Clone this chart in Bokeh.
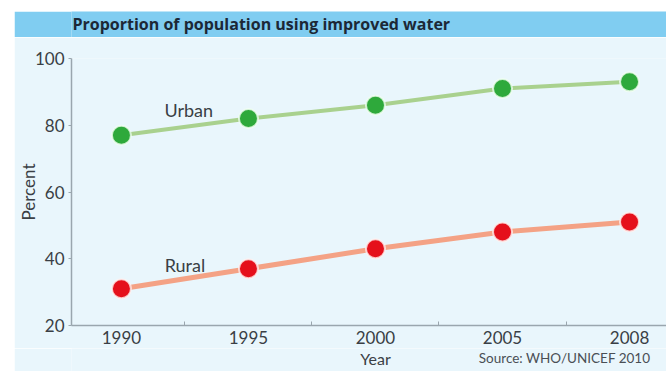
from bokeh.plotting import figure
from bokeh.layouts import column
from bokeh.models import FixedTicker, Label, Range1d
from bokeh.embed import file_html
from bokeh.resources import INLINE

years = ["1990", "1995", "2000", "2005", "2008"]
urban = [77, 82, 86, 91, 93]
rural = [31, 37, 43, 48, 51]
y_ticks = [20, 40, 60, 80, 100]
title_text = "Proportion of population using improved water"
source_text = "Source: WHO/UNICEF 2010"

xs = list(range(len(years)))

BG = "#e9f6fc"
BAR = "#80cdf1"
TXT = "#3a3f45"
AX = "#9aa6ae"
FONT = "Lato"
W = 652
LEFT = 56
XR = Range1d(-0.393, 4.291)

# ---- title bar (frame aligned with the chart's frame in the column) ----
bar = figure(width=W, height=26, output_backend="svg", toolbar_location=None, title=None,
             x_axis_location=None, y_axis_location=None,
             x_range=XR, y_range=Range1d(0, 26),
             min_border_left=LEFT, min_border_right=0, min_border_top=0, min_border_bottom=0)
bar.margin = (11, 0, 0, 14)
bar.grid.visible = False
bar.outline_line_color = None
bar.background_fill_color = BAR
bar.border_fill_color = BAR
bar.add_layout(Label(x=-0.385, y=13.5, text=title_text, text_font="Open Sans", text_font_style="bold",
                     text_font_size="16px", text_color="#1c2836",
                     text_baseline="middle", text_align="left"))

# ---- main chart ----
p = figure(width=W, height=311, output_backend="svg", toolbar_location=None, title=None,
           x_range=XR, y_range=Range1d(20, 100),
           min_border_left=LEFT, min_border_right=0, min_border_top=21, min_border_bottom=23)
p.margin = (0, 0, 0, 14)
p.background_fill_color = BG
p.border_fill_color = BG
p.outline_line_color = None
p.grid.visible = False

p.line(xs, urban, line_color="#a9d18e", line_width=4)
p.line(xs, rural, line_color="#f4a285", line_width=5)
p.scatter(xs, urban, size=19, fill_color="#2ea93b", line_color="#f2fff2", line_width=2, line_alpha=0.8)
p.scatter(xs, rural, size=19, fill_color="#e5101b", line_color="#fff2f0", line_width=2, line_alpha=0.8)

p.add_layout(Label(x=0.53, y=84.7, text="Urban", text_font=FONT, text_font_size="18px",
                   text_color=TXT, text_align="center", text_baseline="middle"))
p.add_layout(Label(x=0.5, y=38.0, text="Rural", text_font=FONT, text_font_size="18px",
                   text_color=TXT, text_align="center", text_baseline="middle"))

xa = p.xaxis[0]
xa.ticker = FixedTicker(ticks=xs, minor_ticks=[0.5, 1.5, 2.5, 3.5])
xa.major_label_overrides = {i: y for i, y in zip(xs, years)}
xa.major_tick_in = 0
xa.major_tick_out = 0
xa.minor_tick_in = 4
xa.minor_tick_out = 0
xa.minor_tick_line_color = AX
xa.axis_line_color = AX
xa.axis_line_width = 1.5
xa.major_label_text_font = FONT
xa.major_label_text_font_size = "17px"
xa.major_label_text_color = TXT
xa.major_label_standoff = 5

ya = p.yaxis[0]
ya.ticker = FixedTicker(ticks=y_ticks, minor_ticks=[])
ya.major_tick_in = 0
ya.major_tick_out = 3
ya.major_tick_line_color = AX
ya.axis_line_color = AX
ya.axis_line_width = 1.5
ya.major_label_text_font = FONT
ya.major_label_text_font_size = "17px"
ya.major_label_text_color = TXT
ya.major_label_standoff = 4
ya.axis_label = "Percent"
ya.axis_label_text_font = FONT
ya.axis_label_text_font_style = "normal"
ya.axis_label_text_font_size = "17px"
ya.axis_label_text_color = TXT
ya.axis_label_standoff = -7

# ---- bottom strip: axis title and source, on the same x scale ----
foot = figure(width=W, height=23, output_backend="svg", toolbar_location=None, title=None,
              x_axis_location=None, y_axis_location=None,
              x_range=XR, y_range=Range1d(0, 1),
              min_border_left=LEFT, min_border_right=0, min_border_top=0, min_border_bottom=0)
foot.margin = (0, 0, 0, 14)
foot.grid.visible = False
foot.outline_line_color = None
foot.background_fill_color = BG
foot.border_fill_color = BG
foot.add_layout(Label(x=2, y=0.57, text="Year", text_font=FONT, text_font_size="16px",
                      text_color=TXT, text_align="center", text_baseline="middle"))
foot.add_layout(Label(x=4.165, y=0.57, text=source_text, text_font=FONT, text_font_size="13.5px",
                      text_color="#4a4f55", text_align="right", text_baseline="middle"))

layout = column(bar, p, foot, spacing=0)
open("out.html", "w").write(file_html(layout, INLINE))
